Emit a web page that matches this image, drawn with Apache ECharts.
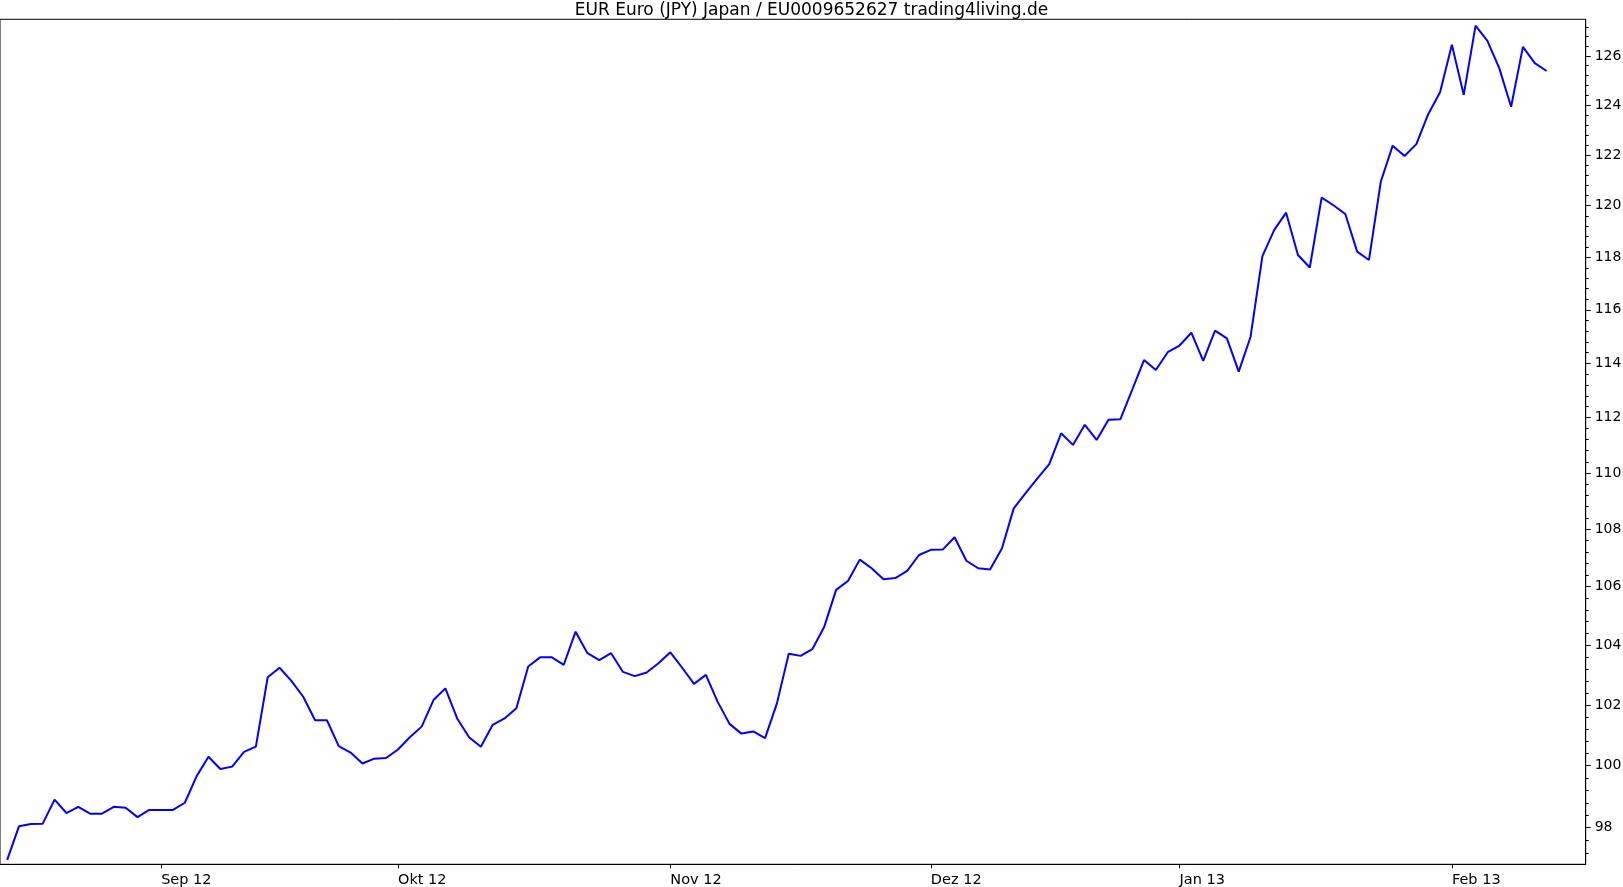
<!DOCTYPE html>
<html><head><meta charset="utf-8">
<script src="https://cdn.jsdelivr.net/npm/echarts@6/dist/echarts.min.js"></script>
<style>html,body{margin:0;padding:0;background:#fff}#c{width:1623px;height:887px}</style>
</head><body><div id="c"></div>
<script>
const titleText = 'EUR Euro (JPY) Japan / EU0009652627 trading4living.de';
const startDate = [2012, 7, 15]; // first trading day (Aug 15, 2012)
const pointCount = 131;
const monthNames = ['Jan','Feb','Mär','Apr','Mai','Jun','Jul','Aug','Sep','Okt','Nov','Dez'];
const prices = [
  96.98, 98.05, 98.12, 98.13, 98.90, 98.47, 98.67, 98.45, 98.45, 98.67,
  98.64, 98.34, 98.57, 98.57, 98.57, 98.80, 99.66, 100.29, 99.89, 99.97,
  100.45, 100.62, 102.92, 103.24, 102.80, 102.27, 101.49, 101.49, 100.64, 100.43,
  100.07, 100.23, 100.25, 100.53, 100.93, 101.28, 102.16, 102.55, 101.55, 100.93,
  100.62, 101.34, 101.55, 101.89, 103.28, 103.59, 103.59, 103.34, 104.46, 103.73,
  103.50, 103.73, 103.10, 102.96, 103.08, 103.39, 103.76, 103.24, 102.70, 103.00,
  102.10, 101.37, 101.05, 101.12, 100.90, 102.05, 103.71, 103.64, 103.87, 104.63,
  105.89, 106.20, 106.94, 106.64, 106.26, 106.30, 106.55, 107.10, 107.28, 107.29,
  107.72, 106.90, 106.64, 106.60, 107.33, 108.74, 109.28, 109.81, 110.32, 111.43,
  111.01, 111.74, 111.19, 111.92, 111.94, 113.02, 114.12, 113.75, 114.41, 114.66,
  115.14, 114.09, 115.22, 114.93, 113.69, 114.99, 118.05, 119.06, 119.73, 118.09,
  117.61, 120.32, 120.02, 119.68, 118.22, 117.90, 120.95, 122.37, 121.96, 122.43,
  123.63, 124.52, 126.46, 124.41, 127.25, 126.62, 125.50, 123.93, 126.37, 125.70,
  125.38
];
const yTickValues = [98, 100, 102, 104, 106, 108, 110, 112, 114, 116, 118, 120, 122, 124, 126];
const yMin = 96.84, yMax = 127.51;

// trading days (weekdays) as categories
const dates = [];
(function () {
  const d = new Date(startDate[0], startDate[1], startDate[2]);
  while (dates.length < pointCount) {
    const wd = d.getDay();
    if (wd !== 0 && wd !== 6) dates.push(new Date(d.getTime()));
    d.setDate(d.getDate() + 1);
  }
})();
const monthTickIdx = [];
const monthTickLabel = {};
for (let i = 1; i < dates.length; i++) {
  if (dates[i].getMonth() !== dates[i - 1].getMonth()) {
    monthTickIdx.push(i);
    monthTickLabel[i] = monthNames[dates[i].getMonth()] + ' ' + String(dates[i].getFullYear()).slice(2);
  }
}
const yMinorValues = [];
for (let v = 97.2; v < yMax; v += 0.4) {
  const r = Math.round(v * 10) / 10;
  if (Math.abs(r / 2 - Math.round(r / 2)) > 1e-6) yMinorValues.push(r);
}

const FONT = 'DejaVu Sans';
const chart = echarts.init(document.getElementById('c'), null, {renderer: 'canvas'});
chart.setOption({
  animation: false,
  backgroundColor: '#fff',
  title: {
    text: titleText, left: 'center', top: 2, padding: 0,
    textStyle: {fontFamily: FONT, fontSize: 17, fontWeight: 'normal', color: '#000'}
  },
  grid: {
    left: 0, right: 37.3, top: 19.3, bottom: 22.7, show: true,
    borderColor: '#000', borderWidth: 1, backgroundColor: 'transparent',
    containLabel: false, outerBoundsMode: 'none'
  },
  xAxis: {
    type: 'value', min: -0.608, max: 133.3,
    axisLine: {show: true, onZero: false, lineStyle: {color: '#000', width: 1}},
    axisTick: {show: true, length: 4, customValues: monthTickIdx, lineStyle: {color: '#000'}},
    axisLabel: {
      customValues: monthTickIdx, align: 'left', margin: 8,
      fontFamily: FONT, fontSize: 14.5, color: '#000',
      formatter: v => monthTickLabel[Math.round(v)] || ''
    },
    splitLine: {show: false}
  },
  yAxis: [{
    type: 'log', position: 'right', min: yMin, max: yMax,
    axisLine: {show: true, onZero: false, lineStyle: {color: '#000', width: 1}},
    axisTick: {show: true, length: 5, customValues: yTickValues, lineStyle: {color: '#000'}},
    axisLabel: {customValues: yTickValues, margin: 9, fontFamily: FONT, fontSize: 14, color: '#000',
      formatter: v => String(Math.round(v))},
    splitLine: {show: false}
  }, {
    type: 'log', position: 'right', min: yMin, max: yMax,
    axisLine: {show: false, onZero: false},
    axisTick: {show: true, length: 3, customValues: yMinorValues, lineStyle: {color: '#000'}},
    axisLabel: {show: false},
    splitLine: {show: false}
  }],
  series: [{
    type: 'line', yAxisIndex: 0, showSymbol: false, silent: true,
    data: prices.map((p, i) => [i, p]),
    lineStyle: {color: '#0000ff', width: 2}
  }]
});
</script></body></html>
